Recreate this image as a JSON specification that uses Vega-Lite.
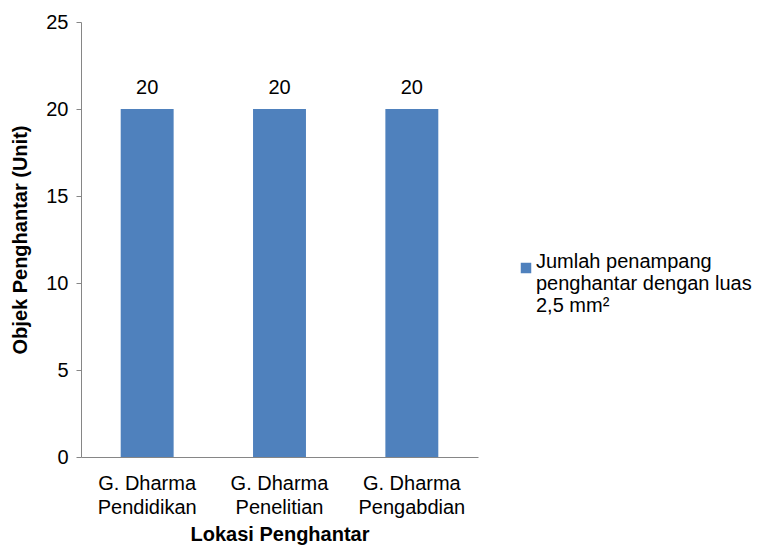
{
  "$schema": "https://vega.github.io/schema/vega-lite/v6.json",
  "width": 397,
  "height": 435,
  "autosize": "none",
  "padding": {"left": 81, "top": 22, "right": 288, "bottom": 93},
  "background": "white",
  "config": {
    "font": "Liberation Sans",
    "view": {"stroke": null},
    "axis": {"domainColor": "#868686", "tickColor": "#868686", "labelColor": "#000000", "titleColor": "#000000", "labelFont": "Liberation Sans", "titleFont": "Liberation Sans"},
    "legend": {"labelFont": "Liberation Sans"}
  },
  "data": {
    "values": [
      {"lokasi": "G. Dharma Pendidikan", "jumlah": 20, "seri": "Jumlah penampang penghantar dengan luas 2,5 mm²"},
      {"lokasi": "G. Dharma Penelitian", "jumlah": 20, "seri": "Jumlah penampang penghantar dengan luas 2,5 mm²"},
      {"lokasi": "G. Dharma Pengabdian", "jumlah": 20, "seri": "Jumlah penampang penghantar dengan luas 2,5 mm²"}
    ]
  },
  "encoding": {
    "x": {
      "field": "lokasi",
      "type": "nominal",
      "sort": null,
      "scale": {"paddingInner": 0.6, "paddingOuter": 0.3},
      "axis": {
        "title": "Lokasi Penghantar",
        "titleFontSize": 20,
        "titleFontWeight": "bold",
        "titlePadding": 7,
        "labelAngle": 0,
        "labelFontSize": 20,
        "labelLineHeight": 24,
        "labelPadding": 16,
        "ticks": false,
        "labelExpr": "[slice(datum.label, 0, 9), slice(datum.label, 10)]"
      }
    },
    "y": {
      "field": "jumlah",
      "type": "quantitative",
      "scale": {"domain": [0, 25]},
      "axis": {
        "title": "Objek Penghantar (Unit)",
        "titleFontSize": 20,
        "titleFontWeight": "bold",
        "titlePadding": 15,
        "values": [0, 5, 10, 15, 20, 25],
        "tickSize": 5,
        "labelFontSize": 20,
        "labelPadding": 8,
        "grid": false
      }
    }
  },
  "layer": [
    {
      "mark": {"type": "bar", "color": "#4F81BD"},
      "encoding": {
        "color": {
          "field": "seri",
          "type": "nominal",
          "scale": {"range": ["#4F81BD"]},
          "legend": {
            "title": null,
            "orient": "none",
            "legendX": 435,
            "legendY": 236,
            "symbolType": "square",
            "symbolSize": 110,
            "symbolStrokeWidth": 0,
            "labelFontSize": 20,
            "labelLineHeight": 22,
            "labelLimit": 300,
            "labelBaseline": "alphabetic",
            "labelOffset": 0,
            "labelExpr": "['Jumlah penampang', 'penghantar dengan luas', '2,5 mm²']"
          }
        }
      }
    },
    {
      "mark": {"type": "text", "baseline": "bottom", "dy": -11, "fontSize": 20, "font": "Liberation Sans", "color": "#000000"},
      "encoding": {"text": {"field": "jumlah", "type": "quantitative"}}
    }
  ]
}
